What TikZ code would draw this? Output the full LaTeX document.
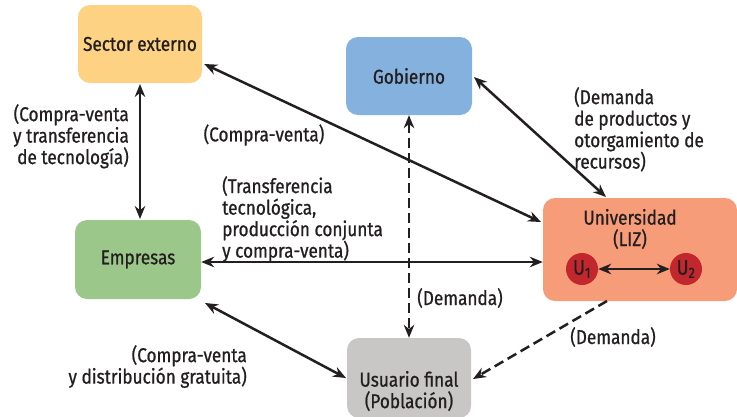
\documentclass[tikz,border=0pt]{standalone}
\usepackage{fontspec}
\setmainfont{Fira Sans}[FakeStretch=0.86,FakeBold=0.8]
\usetikzlibrary{arrows.meta}
\definecolor{txt}{HTML}{231F20}
\definecolor{csec}{HTML}{FDD283}
\definecolor{cgob}{HTML}{85B1DE}
\definecolor{cemp}{HTML}{9BC88A}
\definecolor{cuni}{HTML}{F79C78}
\definecolor{cusu}{HTML}{C8C7C6}
\definecolor{cu}{HTML}{C1272D}
\tikzset{
  box/.style={rounded corners=12pt, inner sep=0pt, text=txt, font=\fontsize{20}{21.5}\selectfont},
  lbl/.style={inner sep=0pt, text=txt, font=\fontsize{20}{21.5}\selectfont},
  conn/.style={line width=2.5pt, color=txt, {Stealth[length=13pt,width=10.5pt]}-{Stealth[length=13pt,width=10.5pt]}},
  oneway/.style={line width=2.5pt, color=txt, -{Stealth[length=13pt,width=10.5pt]}},
  dsh/.style={dash pattern=on 10pt off 5pt},
  ucirc/.style={circle, fill=cu, minimum size=32pt, inner sep=0pt, text=txt, font=\fontsize{21}{21}\selectfont}
}
\begin{document}
\begin{tikzpicture}[x=1pt,y=-1pt]
\useasboundingbox (0,0) rectangle (737,416);
\node[box, fill=csec, minimum width=124pt, minimum height=78pt] (sec) at (140,44) {Sector externo};
\node[box, fill=cgob, minimum width=126pt, minimum height=78pt] (gob) at (409,76) {Gobierno};
\node[box, fill=cemp, minimum width=126pt, minimum height=79pt] (emp) at (138,259.5) {Empresas};
\node[box, fill=cuni, minimum width=194pt, minimum height=103pt] (uni) at (640,249.5) {};
\node[box, fill=cusu, minimum width=124pt, minimum height=80pt] (usu) at (409,378) {};
\node[lbl, align=center] (unit) at (630,229) {Universidad\\(LIZ)};
\node[lbl, align=center] (usut) at (409,391) {Usuario final\\(Población)};
\node[ucirc] (u1) at (582,269) {U\textsubscript{1}};
\node[ucirc] (u2) at (686,269) {U\textsubscript{2}};
\draw[conn] (u1) -- (u2);

\coordinate (secB) at (140,84);
\coordinate (empT) at (140,219);
\draw[conn] (secB) -- (empT);
\draw[conn] (sec.east |- 0,64) ++(2,0) coordinate (a1) -- (541,222) coordinate (a2);
\draw[conn] (emp.east |- 0,262) -- (uni.west |- 0,262);
\draw[conn] (474,77) coordinate (g1) -- (606,197) coordinate (g2);
\draw[conn, dsh] (gob.south) -- (usu.north);
\draw[conn] (205,303) coordinate (e1) -- (346,378) coordinate (e2);
\draw[oneway, dsh] (607,301) coordinate (d1) -- (473,379) coordinate (d2);

\node[lbl, align=right, anchor=north east] (l1) at (129,104) {(Compra-venta\\y transferencia\\de tecnología)};
\node[lbl] (l2) at (264,135) {(Compra-venta)};
\node[lbl, align=left, anchor=north west] (l3) at (222,176) {(Transferencia\\tecnológica,\\producción conjunta\\y compra-venta)};
\node[lbl, align=left, anchor=north west] (l4) at (574,87) {(Demanda\\de productos y\\otorgamiento de\\recursos)};
\node[lbl] (l5) at (460,298) {(Demanda)};
\node[lbl] (l6) at (613,337) {(Demanda)};
\node[lbl, align=right, anchor=north east] (l7) at (247,345) {(Compra-venta\\y distribución gratuita)};
\end{tikzpicture}
\end{document}
